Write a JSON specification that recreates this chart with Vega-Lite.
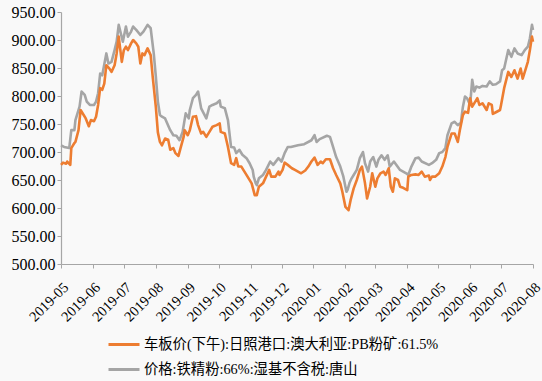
{
"$schema": "https://vega.github.io/schema/vega-lite/v6.json",
"width": 472, "height": 252,
"autosize": {"type": "none"},
"padding": {"left": 61, "top": 12, "right": 9, "bottom": 117},
"background": "#f9f9f9",
"config": {"view": {"stroke": null}, "font": "Liberation Serif"},
"data": {"values": [
{"d":"2019/05/01","s":"g","v":712},{"d":"2019/05/04","s":"g","v":709},{"d":"2019/05/09","s":"g","v":707},{"d":"2019/05/11","s":"g","v":739},{"d":"2019/05/14","s":"g","v":739},{"d":"2019/05/15","s":"g","v":757},{"d":"2019/05/19","s":"g","v":781},{"d":"2019/05/21","s":"g","v":808},{"d":"2019/05/24","s":"g","v":802},{"d":"2019/05/26","s":"g","v":790},{"d":"2019/05/29","s":"g","v":784},{"d":"2019/06/02","s":"g","v":784},{"d":"2019/06/04","s":"g","v":790},{"d":"2019/06/06","s":"g","v":805},{"d":"2019/06/08","s":"g","v":840},{"d":"2019/06/10","s":"g","v":837},{"d":"2019/06/14","s":"g","v":876},{"d":"2019/06/16","s":"g","v":858},{"d":"2019/06/19","s":"g","v":861},{"d":"2019/06/22","s":"g","v":882},{"d":"2019/06/24","s":"g","v":897},{"d":"2019/06/26","s":"g","v":927},{"d":"2019/06/28","s":"g","v":912},{"d":"2019/06/30","s":"g","v":897},{"d":"2019/07/03","s":"g","v":924},{"d":"2019/07/05","s":"g","v":906},{"d":"2019/07/08","s":"g","v":915},{"d":"2019/07/10","s":"g","v":924},{"d":"2019/07/13","s":"g","v":918},{"d":"2019/07/17","s":"g","v":909},{"d":"2019/07/20","s":"g","v":915},{"d":"2019/07/24","s":"g","v":927},{"d":"2019/07/27","s":"g","v":921},{"d":"2019/07/30","s":"g","v":876},{"d":"2019/08/01","s":"g","v":835},{"d":"2019/08/03","s":"g","v":790},{"d":"2019/08/05","s":"g","v":766},{"d":"2019/08/07","s":"g","v":763},{"d":"2019/08/10","s":"g","v":760},{"d":"2019/08/15","s":"g","v":739},{"d":"2019/08/18","s":"g","v":730},{"d":"2019/08/21","s":"g","v":729},{"d":"2019/08/24","s":"g","v":721},{"d":"2019/08/27","s":"g","v":736},{"d":"2019/08/30","s":"g","v":769},{"d":"2019/09/02","s":"g","v":760},{"d":"2019/09/03","s":"g","v":775},{"d":"2019/09/06","s":"g","v":796},{"d":"2019/09/09","s":"g","v":802},{"d":"2019/09/11","s":"g","v":808},{"d":"2019/09/14","s":"g","v":778},{"d":"2019/09/19","s":"g","v":760},{"d":"2019/09/22","s":"g","v":781},{"d":"2019/09/25","s":"g","v":784},{"d":"2019/09/29","s":"g","v":787},{"d":"2019/10/02","s":"g","v":792},{"d":"2019/10/03","s":"g","v":781},{"d":"2019/10/07","s":"g","v":778},{"d":"2019/10/10","s":"g","v":757},{"d":"2019/10/13","s":"g","v":709},{"d":"2019/10/16","s":"g","v":708},{"d":"2019/10/18","s":"g","v":698},{"d":"2019/10/21","s":"g","v":704},{"d":"2019/10/24","s":"g","v":695},{"d":"2019/10/28","s":"g","v":689},{"d":"2019/10/31","s":"g","v":680},{"d":"2019/11/03","s":"g","v":668},{"d":"2019/11/04","s":"g","v":656},{"d":"2019/11/06","s":"g","v":644},{"d":"2019/11/07","s":"g","v":641},{"d":"2019/11/09","s":"g","v":653},{"d":"2019/11/13","s":"g","v":659},{"d":"2019/11/16","s":"g","v":668},{"d":"2019/11/20","s":"g","v":683},{"d":"2019/11/23","s":"g","v":677},{"d":"2019/11/28","s":"g","v":689},{"d":"2019/12/01","s":"g","v":683},{"d":"2019/12/04","s":"g","v":698},{"d":"2019/12/07","s":"g","v":709},{"d":"2019/12/10","s":"g","v":709},{"d":"2019/12/17","s":"g","v":712},{"d":"2019/12/23","s":"g","v":714},{"d":"2019/12/30","s":"g","v":721},{"d":"2020/01/02","s":"g","v":730},{"d":"2020/01/04","s":"g","v":718},{"d":"2020/01/07","s":"g","v":723},{"d":"2020/01/14","s":"g","v":729},{"d":"2020/01/17","s":"g","v":727},{"d":"2020/01/20","s":"g","v":709},{"d":"2020/01/23","s":"g","v":691},{"d":"2020/01/27","s":"g","v":674},{"d":"2020/01/30","s":"g","v":656},{"d":"2020/02/02","s":"g","v":629},{"d":"2020/02/03","s":"g","v":632},{"d":"2020/02/05","s":"g","v":645},{"d":"2020/02/07","s":"g","v":653},{"d":"2020/02/09","s":"g","v":659},{"d":"2020/02/12","s":"g","v":668},{"d":"2020/02/15","s":"g","v":689},{"d":"2020/02/18","s":"g","v":700},{"d":"2020/02/20","s":"g","v":680},{"d":"2020/02/23","s":"g","v":665},{"d":"2020/02/25","s":"g","v":683},{"d":"2020/02/28","s":"g","v":691},{"d":"2020/03/02","s":"g","v":674},{"d":"2020/03/04","s":"g","v":686},{"d":"2020/03/07","s":"g","v":694},{"d":"2020/03/10","s":"g","v":686},{"d":"2020/03/13","s":"g","v":694},{"d":"2020/03/15","s":"g","v":674},{"d":"2020/03/19","s":"g","v":683},{"d":"2020/03/25","s":"g","v":668},{"d":"2020/03/31","s":"g","v":662},{"d":"2020/04/02","s":"g","v":659},{"d":"2020/04/05","s":"g","v":674},{"d":"2020/04/09","s":"g","v":689},{"d":"2020/04/12","s":"g","v":690},{"d":"2020/04/15","s":"g","v":683},{"d":"2020/04/22","s":"g","v":677},{"d":"2020/04/25","s":"g","v":680},{"d":"2020/04/29","s":"g","v":686},{"d":"2020/05/02","s":"g","v":698},{"d":"2020/05/05","s":"g","v":700},{"d":"2020/05/08","s":"g","v":707},{"d":"2020/05/10","s":"g","v":730},{"d":"2020/05/14","s":"g","v":751},{"d":"2020/05/17","s":"g","v":754},{"d":"2020/05/20","s":"g","v":748},{"d":"2020/05/23","s":"g","v":752},{"d":"2020/05/25","s":"g","v":781},{"d":"2020/05/27","s":"g","v":799},{"d":"2020/05/29","s":"g","v":796},{"d":"2020/06/01","s":"g","v":784},{"d":"2020/06/03","s":"g","v":829},{"d":"2020/06/05","s":"g","v":808},{"d":"2020/06/07","s":"g","v":817},{"d":"2020/06/10","s":"g","v":815},{"d":"2020/06/13","s":"g","v":818},{"d":"2020/06/17","s":"g","v":817},{"d":"2020/06/20","s":"g","v":826},{"d":"2020/06/23","s":"g","v":820},{"d":"2020/06/26","s":"g","v":821},{"d":"2020/06/30","s":"g","v":826},{"d":"2020/07/02","s":"g","v":846},{"d":"2020/07/04","s":"g","v":849},{"d":"2020/07/08","s":"g","v":882},{"d":"2020/07/11","s":"g","v":870},{"d":"2020/07/14","s":"g","v":885},{"d":"2020/07/17","s":"g","v":876},{"d":"2020/07/21","s":"g","v":873},{"d":"2020/07/24","s":"g","v":882},{"d":"2020/07/27","s":"g","v":888},{"d":"2020/07/29","s":"g","v":903},{"d":"2020/07/31","s":"g","v":927},{"d":"2020/08/01","s":"g","v":918},
{"d":"2019/05/01","s":"o","v":677},{"d":"2019/05/03","s":"o","v":681},{"d":"2019/05/06","s":"o","v":679},{"d":"2019/05/07","s":"o","v":683},{"d":"2019/05/10","s":"o","v":677},{"d":"2019/05/11","s":"o","v":707},{"d":"2019/05/14","s":"o","v":716},{"d":"2019/05/15","s":"o","v":718},{"d":"2019/05/18","s":"o","v":739},{"d":"2019/05/20","s":"o","v":775},{"d":"2019/05/23","s":"o","v":766},{"d":"2019/05/25","s":"o","v":760},{"d":"2019/05/28","s":"o","v":746},{"d":"2019/05/30","s":"o","v":757},{"d":"2019/06/02","s":"o","v":755},{"d":"2019/06/04","s":"o","v":763},{"d":"2019/06/06","s":"o","v":784},{"d":"2019/06/08","s":"o","v":814},{"d":"2019/06/10","s":"o","v":811},{"d":"2019/06/12","s":"o","v":822},{"d":"2019/06/14","s":"o","v":855},{"d":"2019/06/17","s":"o","v":849},{"d":"2019/06/19","s":"o","v":843},{"d":"2019/06/22","s":"o","v":855},{"d":"2019/06/24","s":"o","v":876},{"d":"2019/06/26","s":"o","v":906},{"d":"2019/06/29","s":"o","v":861},{"d":"2019/07/01","s":"o","v":882},{"d":"2019/07/03","s":"o","v":888},{"d":"2019/07/05","s":"o","v":882},{"d":"2019/07/08","s":"o","v":894},{"d":"2019/07/10","s":"o","v":900},{"d":"2019/07/13","s":"o","v":894},{"d":"2019/07/15","s":"o","v":888},{"d":"2019/07/17","s":"o","v":858},{"d":"2019/07/19","s":"o","v":876},{"d":"2019/07/21","s":"o","v":873},{"d":"2019/07/24","s":"o","v":885},{"d":"2019/07/27","s":"o","v":873},{"d":"2019/07/29","s":"o","v":834},{"d":"2019/08/01","s":"o","v":781},{"d":"2019/08/03","s":"o","v":735},{"d":"2019/08/05","s":"o","v":718},{"d":"2019/08/07","s":"o","v":712},{"d":"2019/08/10","s":"o","v":724},{"d":"2019/08/13","s":"o","v":722},{"d":"2019/08/15","s":"o","v":704},{"d":"2019/08/18","s":"o","v":707},{"d":"2019/08/20","s":"o","v":698},{"d":"2019/08/23","s":"o","v":693},{"d":"2019/08/25","s":"o","v":707},{"d":"2019/08/28","s":"o","v":727},{"d":"2019/08/29","s":"o","v":739},{"d":"2019/09/01","s":"o","v":730},{"d":"2019/09/03","s":"o","v":739},{"d":"2019/09/06","s":"o","v":763},{"d":"2019/09/09","s":"o","v":764},{"d":"2019/09/11","s":"o","v":748},{"d":"2019/09/14","s":"o","v":733},{"d":"2019/09/16","s":"o","v":736},{"d":"2019/09/19","s":"o","v":727},{"d":"2019/09/22","s":"o","v":736},{"d":"2019/09/25","s":"o","v":745},{"d":"2019/09/29","s":"o","v":748},{"d":"2019/10/02","s":"o","v":751},{"d":"2019/10/03","s":"o","v":736},{"d":"2019/10/07","s":"o","v":733},{"d":"2019/10/10","s":"o","v":709},{"d":"2019/10/13","s":"o","v":680},{"d":"2019/10/16","s":"o","v":677},{"d":"2019/10/18","s":"o","v":689},{"d":"2019/10/20","s":"o","v":674},{"d":"2019/10/23","s":"o","v":674},{"d":"2019/10/26","s":"o","v":665},{"d":"2019/10/29","s":"o","v":656},{"d":"2019/11/02","s":"o","v":644},{"d":"2019/11/05","s":"o","v":623},{"d":"2019/11/07","s":"o","v":623},{"d":"2019/11/09","s":"o","v":638},{"d":"2019/11/13","s":"o","v":644},{"d":"2019/11/16","s":"o","v":656},{"d":"2019/11/19","s":"o","v":668},{"d":"2019/11/21","s":"o","v":656},{"d":"2019/11/25","s":"o","v":656},{"d":"2019/11/28","s":"o","v":665},{"d":"2019/11/29","s":"o","v":659},{"d":"2019/12/02","s":"o","v":668},{"d":"2019/12/04","s":"o","v":681},{"d":"2019/12/07","s":"o","v":677},{"d":"2019/12/11","s":"o","v":671},{"d":"2019/12/14","s":"o","v":668},{"d":"2019/12/17","s":"o","v":665},{"d":"2019/12/20","s":"o","v":662},{"d":"2019/12/24","s":"o","v":667},{"d":"2019/12/27","s":"o","v":674},{"d":"2019/12/30","s":"o","v":683},{"d":"2020/01/02","s":"o","v":690},{"d":"2020/01/05","s":"o","v":677},{"d":"2020/01/08","s":"o","v":683},{"d":"2020/01/10","s":"o","v":680},{"d":"2020/01/13","s":"o","v":687},{"d":"2020/01/17","s":"o","v":687},{"d":"2020/01/20","s":"o","v":671},{"d":"2020/01/23","s":"o","v":659},{"d":"2020/01/27","s":"o","v":644},{"d":"2020/01/29","s":"o","v":629},{"d":"2020/02/01","s":"o","v":602},{"d":"2020/02/04","s":"o","v":596},{"d":"2020/02/06","s":"o","v":614},{"d":"2020/02/09","s":"o","v":635},{"d":"2020/02/12","s":"o","v":650},{"d":"2020/02/15","s":"o","v":668},{"d":"2020/02/17","s":"o","v":674},{"d":"2020/02/20","s":"o","v":644},{"d":"2020/02/22","s":"o","v":617},{"d":"2020/02/25","s":"o","v":638},{"d":"2020/02/27","s":"o","v":662},{"d":"2020/03/01","s":"o","v":638},{"d":"2020/03/03","s":"o","v":653},{"d":"2020/03/06","s":"o","v":662},{"d":"2020/03/09","s":"o","v":665},{"d":"2020/03/11","s":"o","v":659},{"d":"2020/03/14","s":"o","v":671},{"d":"2020/03/16","s":"o","v":638},{"d":"2020/03/18","s":"o","v":629},{"d":"2020/03/20","s":"o","v":653},{"d":"2020/03/23","s":"o","v":650},{"d":"2020/03/25","s":"o","v":638},{"d":"2020/03/28","s":"o","v":636},{"d":"2020/04/01","s":"o","v":632},{"d":"2020/04/02","s":"o","v":656},{"d":"2020/04/05","s":"o","v":659},{"d":"2020/04/09","s":"o","v":660},{"d":"2020/04/12","s":"o","v":659},{"d":"2020/04/15","s":"o","v":665},{"d":"2020/04/18","s":"o","v":656},{"d":"2020/04/22","s":"o","v":658},{"d":"2020/04/23","s":"o","v":650},{"d":"2020/04/25","s":"o","v":656},{"d":"2020/04/28","s":"o","v":656},{"d":"2020/05/02","s":"o","v":662},{"d":"2020/05/05","s":"o","v":674},{"d":"2020/05/08","s":"o","v":691},{"d":"2020/05/10","s":"o","v":709},{"d":"2020/05/14","s":"o","v":733},{"d":"2020/05/17","s":"o","v":733},{"d":"2020/05/20","s":"o","v":718},{"d":"2020/05/22","s":"o","v":739},{"d":"2020/05/25","s":"o","v":766},{"d":"2020/05/27","s":"o","v":772},{"d":"2020/05/30","s":"o","v":770},{"d":"2020/06/01","s":"o","v":796},{"d":"2020/06/03","s":"o","v":781},{"d":"2020/06/06","s":"o","v":790},{"d":"2020/06/08","s":"o","v":796},{"d":"2020/06/10","s":"o","v":784},{"d":"2020/06/13","s":"o","v":787},{"d":"2020/06/17","s":"o","v":775},{"d":"2020/06/19","s":"o","v":787},{"d":"2020/06/22","s":"o","v":784},{"d":"2020/06/23","s":"o","v":768},{"d":"2020/06/26","s":"o","v":771},{"d":"2020/06/30","s":"o","v":775},{"d":"2020/07/01","s":"o","v":784},{"d":"2020/07/04","s":"o","v":814},{"d":"2020/07/08","s":"o","v":843},{"d":"2020/07/11","s":"o","v":834},{"d":"2020/07/14","s":"o","v":846},{"d":"2020/07/17","s":"o","v":831},{"d":"2020/07/20","s":"o","v":849},{"d":"2020/07/22","s":"o","v":831},{"d":"2020/07/25","s":"o","v":849},{"d":"2020/07/27","s":"o","v":861},{"d":"2020/07/29","s":"o","v":882},{"d":"2020/07/31","s":"o","v":906},{"d":"2020/08/01","s":"o","v":897}
]},
"mark": {"type": "line", "strokeWidth": 2.6, "strokeJoin": "round"},
"encoding": {
  "x": {"field": "d", "type": "temporal",
    "scale": {"domain": [{"year": 2019, "month": 5, "date": 1}, {"year": 2020, "month": 8, "date": 1}]},
    "axis": {"title": null, "format": "%Y-%m", "tickCount": {"interval": "month", "step": 1},
      "labelAngle": -45, "labelAlign": "right", "labelBaseline": "top",
      "labelFont": "Liberation Serif", "labelFontSize": 14.5, "labelColor": "#000000",
      "domainColor": "#a6a6a6", "domainWidth": 1.2, "tickColor": "#a6a6a6", "tickSize": 4,
      "grid": false, "labelOverlap": false, "labelBound": false, "labelFlush": false, "labelPadding": 12}},
  "y": {"field": "v", "type": "quantitative",
    "scale": {"domain": [500, 950], "nice": false, "zero": false},
    "axis": {"title": null, "values": [500, 550, 600, 650, 700, 750, 800, 850, 900, 950], "format": ".2f",
      "labelFont": "Liberation Serif", "labelFontSize": 16, "labelColor": "#000000",
      "domainColor": "#a6a6a6", "domainWidth": 1.2, "tickColor": "#a6a6a6", "tickSize": 4,
      "grid": false, "labelPadding": 2}},
  "color": {"field": "s", "type": "nominal",
    "scale": {"domain": ["o", "g"], "range": ["#ED7D31", "#A5A5A5"]},
    "legend": {"title": null, "orient": "none", "legendX": 46, "legendY": 320, "direction": "vertical",
      "symbolType": "stroke", "symbolSize": 961, "symbolStrokeWidth": 3,
      "labelFont": "Liberation Serif, Noto Sans CJK SC", "labelFontSize": 14.3, "labelColor": "#000000",
      "labelLimit": 600, "clipHeight": 25, "rowPadding": 0, "padding": 0, "labelOffset": 3,
      "labelExpr": "datum.value == 'o' ? '车板价(下午):日照港口:澳大利亚:PB粉矿:61.5%' : '价格:铁精粉:66%:湿基不含税:唐山'"}}
}
}
